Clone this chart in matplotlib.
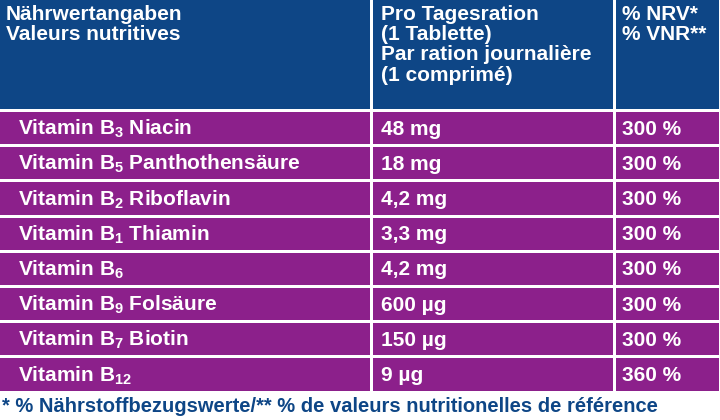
import matplotlib
matplotlib.use("Agg")
import matplotlib.pyplot as plt
from matplotlib.patches import Rectangle

plt.rcParams["font.family"] = "Liberation Sans"
plt.rcParams["font.weight"] = "bold"
plt.rcParams["mathtext.fontset"] = "custom"
plt.rcParams["mathtext.rm"] = "Liberation Sans:bold"
plt.rcParams["mathtext.it"] = "Liberation Sans:bold"
plt.rcParams["mathtext.bf"] = "Liberation Sans:bold"

header = ["Nährwertangaben\nValeurs nutritives",
          "Pro Tagesration\n(1 Tablette)\nPar ration journalière\n(1 comprimé)",
          "% NRV*\n% VNR**"]
nutrients = ["Vitamin B$_3$ Niacin", "Vitamin B$_5$ Panthothensäure",
             "Vitamin B$_2$ Riboflavin", "Vitamin B$_1$ Thiamin", "Vitamin B$_6$",
             "Vitamin B$_9$ Folsäure", "Vitamin B$_7$ Biotin", "Vitamin B$_{12}$"]
amounts = ["48 mg", "18 mg", "4,2 mg", "3,3 mg", "4,2 mg", "600 µg", "150 µg", "9 µg"]
nrv = ["300 %", "300 %", "300 %", "300 %", "300 %", "300 %", "300 %", "360 %"]
footnote = "* % Nährstoffbezugswerte/** % de valeurs nutritionelles de référence"

navy = "#0e4686"
purple = "#8c208b"
col_x = [0, 371, 614, 720]
head_h = 110
row_h = 35.2

fig = plt.figure(figsize=(7.2, 4.2), dpi=100)
ax = fig.add_axes([0, 0, 1, 1])
ax.set_xlim(0, 720)
ax.set_ylim(420, 0)
ax.axis("off")

gap = 3
pad = [18, 10, 8]
for c in range(3):
    x0, x1 = col_x[c], col_x[c + 1]
    ax.add_patch(Rectangle((x0 + (gap / 2 if c else 0), 0),
                           x1 - x0 - (gap if c else gap / 2), head_h - 1,
                           color=navy, lw=0))
    ax.text(x0 + pad[c] - (12 if c == 0 else 0), 5, header[c], va="top", ha="left",
            color="white", fontsize=15, linespacing=1.08)

for r in range(len(nutrients)):
    y0 = head_h + 2 + r * row_h
    vals = [nutrients[r], amounts[r], nrv[r]]
    for c in range(3):
        x0, x1 = col_x[c], col_x[c + 1]
        ax.add_patch(Rectangle((x0 + (gap / 2 if c else 0), y0),
                               x1 - x0 - (gap if c else gap / 2), row_h - gap,
                               color=purple, lw=0))
        ax.text(x0 + pad[c], y0 + (row_h - gap) / 2 + 1, vals[c], va="center",
                ha="left", color="white", fontsize=15)

ax.text(2, 407, footnote, va="center", ha="left", color=navy, fontsize=14.5)

fig.savefig("out.png", dpi=100)
